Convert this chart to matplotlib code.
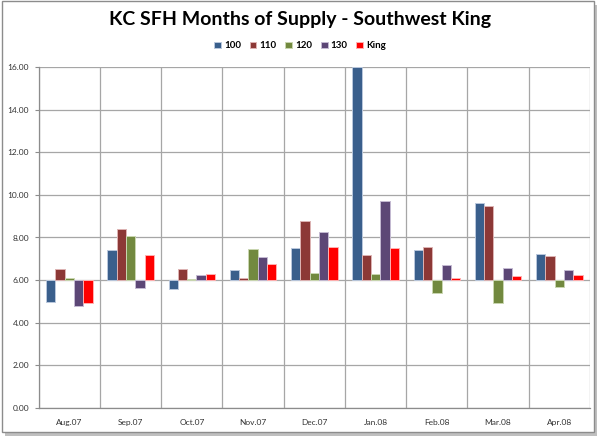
import matplotlib
matplotlib.use("Agg")
import matplotlib.pyplot as plt
from matplotlib.patches import Rectangle
import numpy as np

categories = ["Aug.07", "Sep.07", "Oct.07", "Nov.07", "Dec.07", "Jan.08", "Feb.08", "Mar.08", "Apr.08"]
series_names = ["100", "110", "120", "130", "King"]
s100 = [4.97, 7.42, 5.59, 6.47, 7.52, 16.00, 7.41, 9.63, 7.22]
s110 = [6.53, 8.41, 6.50, 6.09, 8.78, 7.16, 7.55, 9.47, 7.13]
s120 = [6.12, 8.09, 6.05, 7.48, 6.34, 6.31, 5.41, 4.91, 5.66]
s130 = [4.78, 5.64, 6.22, 7.08, 8.27, 9.72, 6.70, 6.56, 6.47]
sKing = [4.91, 7.20, 6.28, 6.75, 7.55, 7.52, 6.12, 6.19, 6.22]
yticks = [0, 2, 4, 6, 8, 10, 12, 14, 16]
base = 6.0

colors = ["#3A5F8C", "#8C3836", "#72893F", "#5C4776", "#FF0000"]
edges = ["#B9C7DC", "#DDB3B3", "#C9D6B0", "#C4BAD2", "#FFB0B0"]

plt.rcParams['font.family'] = ['Lato', 'DejaVu Sans']

fig = plt.figure(figsize=(6, 4.36), dpi=100)
# outer frame with shadow
fig.patches.append(Rectangle((5/600, 0), 592/600, 431/436, transform=fig.transFigure,
                             facecolor="#BFBFBF", edgecolor="none", zorder=0))
fig.patches.append(Rectangle((2/600, 4/436), 592/600, 431/436, transform=fig.transFigure,
                             facecolor="white", edgecolor="#8C8C8C", linewidth=1.0, zorder=1))

ax = fig.add_axes([38.7/600, 1-408/436, (590-38.7)/600, (408-67)/436])
ax.set_zorder(2)
x = np.arange(len(categories))
data = [s100, s110, s120, s130, sKing]
w = 0.152
for i, (vals, c, ec, name) in enumerate(zip(data, colors, edges, series_names)):
    off = (i - 2) * w
    h = [v - base for v in vals]
    ax.bar(x + off, h, w, bottom=base, color=c, edgecolor=ec, linewidth=0.7,
           label=name, zorder=3)

ax.set_xlim(-0.5, len(categories) - 0.5)
ax.set_ylim(0, 16)
ax.set_yticks(yticks)
ax.set_yticklabels([f"{v:.2f}" for v in yticks], fontsize=6, color="#333333")
ax.set_xticks(x)
ax.set_xticklabels(categories, fontsize=6, color="#333333")
ax.set_xticks(np.arange(len(categories) + 1) - 0.5, minor=True)
ax.grid(True, which="major", axis="y", color="#A6A6A6", linewidth=0.9, zorder=1)
ax.grid(True, which="minor", axis="x", color="#A6A6A6", linewidth=0.9, zorder=1)
ax.tick_params(axis="x", which="both", length=0, pad=8)
ax.tick_params(axis="y", which="major", length=3, width=0.8, color="#8C8C8C", pad=4)
for sp in ["top", "right"]:
    ax.spines[sp].set_visible(False)
ax.spines["left"].set_color("#8C8C8C")
ax.spines["bottom"].set_color("#8C8C8C")
ax.spines["left"].set_linewidth(0.9)
ax.spines["bottom"].set_linewidth(0.9)
ax.set_axisbelow(True)

fig.text(0.5, 1-19/436, "KC SFH Months of Supply - Southwest King", ha="center", va="center",
         fontsize=14, fontweight="bold", color="black")

handles, labels = ax.get_legend_handles_labels()
leg = fig.legend(handles, labels, loc="center", bbox_to_anchor=(0.5, 1-46/436), ncol=5,
                 frameon=False, prop={"size": 7, "weight": "bold"}, handlelength=0.7,
                 handleheight=0.7, handletextpad=0.3, columnspacing=0.9)

fig.savefig("out.png", dpi=100)
